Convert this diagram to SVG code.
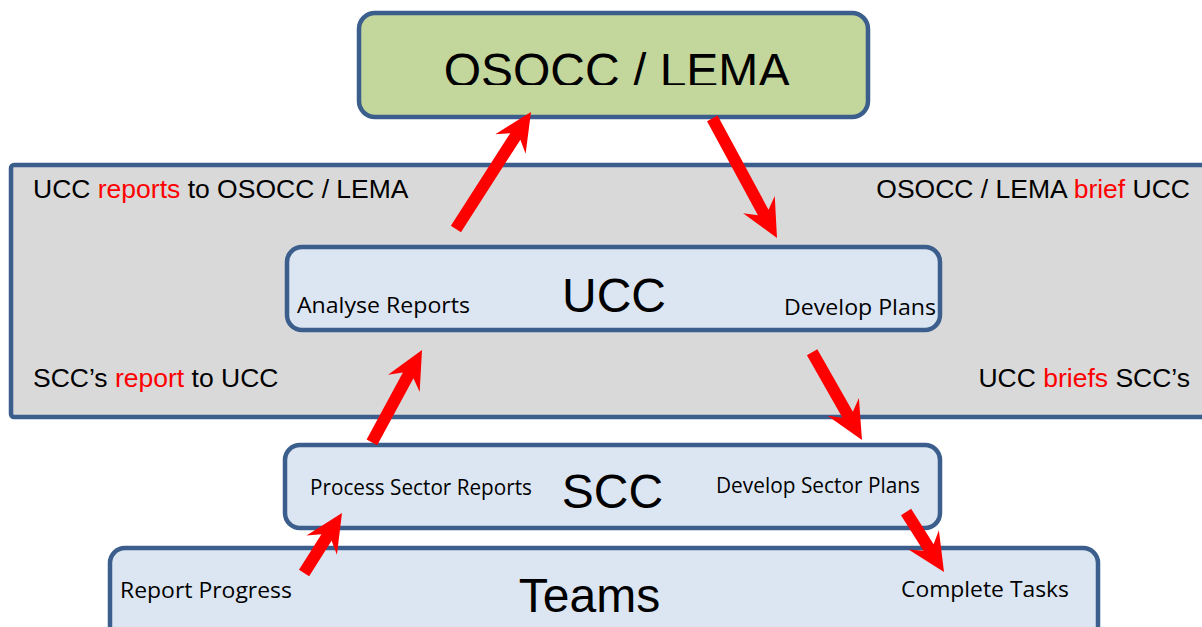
<svg xmlns="http://www.w3.org/2000/svg" width="1202" height="627" viewBox="0 0 1202 627">
<style>
.box{stroke:#3B5E8C;stroke-width:4.5}
.blue{fill:#DCE6F2}
.arial{font-family:"Liberation Sans",Arial,sans-serif;fill:#000}
.cal{font-family:"Open Sans","Noto Sans",sans-serif;font-size:21px;fill:#000}
.big{font-size:48px;text-anchor:middle}
.pt{font-size:26.5px}
.red{fill:#FF0000}
.arrow{fill:#FF0000}
</style>
<defs>
<clipPath id="clipTitle"><rect x="360" y="15" width="506" height="70"/></clipPath>
</defs>
<rect width="1202" height="627" fill="#FFFFFF"/>
<g id="panel">
<rect class="box" x="11" y="165" width="1200" height="252" rx="3" fill="#D9D9D9"/>
<text class="arial pt" x="33" y="198">UCC <tspan class="red">reports</tspan> to OSOCC / LEMA</text>
<text class="arial pt" x="1190" y="198" text-anchor="end">OSOCC / LEMA <tspan class="red">brief</tspan> UCC</text>
<text class="arial pt" x="33" y="387">SCC’s <tspan class="red">report</tspan> to UCC</text>
<text class="arial pt" x="1190" y="387" text-anchor="end">UCC <tspan class="red">briefs</tspan> SCC’s</text>
</g>
<g id="osocc">
<rect class="box" x="359" y="13" width="509" height="104" rx="16" fill="#C3D69B"/>
<text class="arial big" x="617" y="87" clip-path="url(#clipTitle)">OSOCC / LEMA</text>
</g>
<g id="ucc">
<rect class="box blue" x="287" y="247" width="653" height="83" rx="15"/>
<text class="arial big" x="614" y="312">UCC</text>
<text class="cal" x="297" y="313" textLength="173" lengthAdjust="spacingAndGlyphs">Analyse Reports</text>
<text class="cal" x="784" y="315" textLength="152" lengthAdjust="spacingAndGlyphs">Develop Plans</text>
</g>
<g id="scc">
<rect class="box blue" x="285" y="445" width="655" height="83" rx="15"/>
<text class="arial big" x="612.5" y="508">SCC</text>
<text class="cal" x="310" y="495" textLength="222" lengthAdjust="spacingAndGlyphs">Process Sector Reports</text>
<text class="cal" x="716" y="493" textLength="204" lengthAdjust="spacingAndGlyphs">Develop Sector Plans</text>
</g>
<g id="teams">
<rect class="box blue" x="110" y="548" width="988" height="110" rx="15"/>
<text class="arial big" x="589.5" y="612">Teams</text>
<text class="cal" x="120" y="598" textLength="172" lengthAdjust="spacingAndGlyphs">Report Progress</text>
<text class="cal" x="901" y="597" textLength="168" lengthAdjust="spacingAndGlyphs">Complete Tasks</text>
</g>
<g id="connectors">
<path class="arrow" transform="translate(531,112) rotate(-57.3)" d="M0,0 L-38,-18 L-29,-6 L-139,-6 L-139,6 L-29,6 L-38,18 Z"/>
<path class="arrow" transform="translate(777,238) rotate(61.6)" d="M0,0 L-38,-18 L-29,-6 L-136,-6 L-136,6 L-29,6 L-38,18 Z"/>
<path class="arrow" transform="translate(422,350) rotate(-61.5)" d="M0,0 L-38,-18 L-29,-6 L-105,-6 L-105,6 L-29,6 L-38,18 Z"/>
<path class="arrow" transform="translate(862,440) rotate(60.4)" d="M0,0 L-38,-18 L-29,-6 L-101,-6 L-101,6 L-29,6 L-38,18 Z"/>
<path class="arrow" transform="translate(342,513) rotate(-57.7)" d="M0,0 L-38,-18 L-29,-6 L-71,-6 L-71,6 L-29,6 L-38,18 Z"/>
<path class="arrow" transform="translate(944,572) rotate(57.7)" d="M0,0 L-38,-18 L-29,-6 L-71,-6 L-71,6 L-29,6 L-38,18 Z"/>
</g>
</svg>
